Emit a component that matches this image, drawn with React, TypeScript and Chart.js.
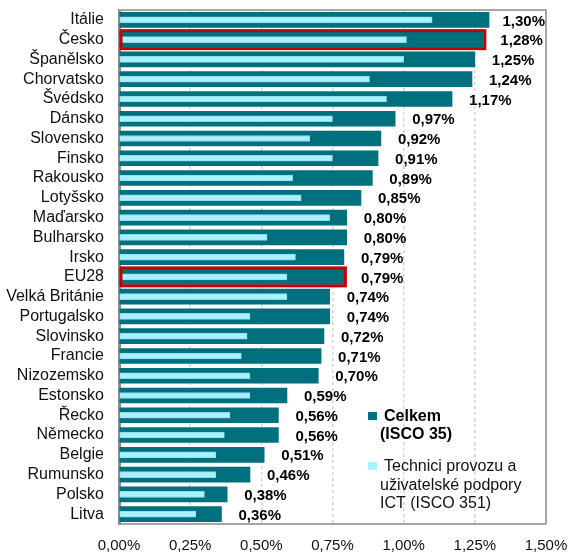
import React, { useEffect, useRef } from "react";
import { Chart, registerables } from "chart.js";

Chart.register(...registerables);

const categories = ["Itálie", "Česko", "Španělsko", "Chorvatsko", "Švédsko", "Dánsko", "Slovensko", "Finsko", "Rakousko", "Lotyšsko", "Maďarsko", "Bulharsko", "Irsko", "EU28", "Velká Británie", "Portugalsko", "Slovinsko", "Francie", "Nizozemsko", "Estonsko", "Řecko", "Německo", "Belgie", "Rumunsko", "Polsko", "Litva"];
const celkem = [1.30, 1.28, 1.25, 1.24, 1.17, 0.97, 0.92, 0.91, 0.89, 0.85, 0.80, 0.80, 0.79, 0.79, 0.74, 0.74, 0.72, 0.71, 0.70, 0.59, 0.56, 0.56, 0.51, 0.46, 0.38, 0.36];
const technici = [1.10, 1.01, 1.00, 0.88, 0.94, 0.75, 0.67, 0.75, 0.61, 0.64, 0.74, 0.52, 0.62, 0.59, 0.59, 0.46, 0.45, 0.43, 0.46, 0.46, 0.39, 0.37, 0.34, 0.34, 0.30, 0.27];
const highlighted = ["Česko", "EU28"];
const xTicks = [0, 0.25, 0.5, 0.75, 1.0, 1.25, 1.5];
const seriesNames = ["Celkem", "Technici provozu a uživatelské podpory ICT (ISCO 351)"];

const DARK = "#006F7E";
const LIGHT = "#A8F1FD";
const FONT = "'Liberation Sans', Arial, sans-serif";

const fmt = (v: number) => v.toFixed(2).replace(".", ",") + "%";

const overlayPlugin = {
  id: "overlay",
  afterDatasetsDraw(chart: any) {
    const ctx = chart.ctx;
    const area = chart.chartArea;
    const darkMeta = chart.getDatasetMeta(1);
    ctx.save();
    // red outlines
    ctx.strokeStyle = "#C00000";
    ctx.lineWidth = 3;
    categories.forEach((c, i) => {
      if (!highlighted.includes(c)) return;
      const el = darkMeta.data[i];
      const h = el.height;
      ctx.strokeRect(area.left + 2, el.y - h / 2 - 1.5, el.x - area.left - 0.5, h + 3);
    });
    // value labels
    ctx.fillStyle = "#000";
    ctx.font = `bold 15px ${FONT}`;
    ctx.textBaseline = "middle";
    ctx.textAlign = "left";
    celkem.forEach((v, i) => {
      const el = darkMeta.data[i];
      const txt = fmt(v);
      const w = ctx.measureText(txt).width;
      let x = el.x + 17;
      if (x + w > area.right - 1) x = area.right - 1 - w;
      ctx.fillText(txt, x, el.y + 1.5);
    });
    // frame top/right
    ctx.strokeStyle = "#A6A6A6";
    ctx.lineWidth = 2;
    ctx.beginPath();
    ctx.moveTo(area.left, area.top);
    ctx.lineTo(area.right, area.top);
    ctx.lineTo(area.right, area.bottom);
    ctx.stroke();
    // legend
    ctx.fillStyle = DARK;
    ctx.fillRect(368, 412, 9, 8);
    ctx.fillStyle = LIGHT;
    ctx.fillRect(368, 462, 9, 8);
    ctx.fillStyle = "#000";
    ctx.font = `bold 16px ${FONT}`;
    ctx.fillText(seriesNames[0], 384, 417);
    ctx.fillText("(ISCO 35)", 380, 435);
    ctx.font = `16px ${FONT}`;
    ctx.fillStyle = "#111";
    ctx.fillText("Technici provozu a", 384, 467);
    ctx.fillText("uživatelské podpory", 380, 486);
    ctx.fillText("ICT (ISCO 351)", 380, 504);
    ctx.restore();
  },
};

export default function App() {
  const ref = useRef<HTMLCanvasElement>(null);
  useEffect(() => {
    document.body.style.margin = "0";
    const chart = new Chart(ref.current!, {
      type: "bar",
      data: {
        labels: categories,
        datasets: [
          {
            label: seriesNames[1],
            data: technici,
            backgroundColor: LIGHT,
            borderColor: "#8EDBE8",
            borderWidth: 1,
            borderSkipped: false,
            barThickness: 6,
            grouped: false,
          },
          {
            label: seriesNames[0],
            data: celkem,
            backgroundColor: DARK,
            borderWidth: 0,
            barThickness: 15,
            grouped: false,
          },
        ],
      },
      options: {
        indexAxis: "y",
        animation: false,
        responsive: true,
        maintainAspectRatio: false,
        layout: { padding: { top: 10, right: 24, left: 0, bottom: 0 } },
        plugins: { legend: { display: false }, tooltip: { enabled: false } },
        scales: {
          x: {
            min: 0,
            max: 1.5,
            afterBuildTicks: (scale: any) => {
              scale.ticks = xTicks.map((v) => ({ value: v }));
            },
            afterFit: (scale: any) => {
              scale.height = 28;
              scale.paddingLeft = 0;
              scale.paddingRight = 0;
            },
            ticks: {
              callback: (v: any) => fmt(Number(v)),
              font: { family: FONT, size: 15 },
              color: "#111",
              padding: 13,
              maxRotation: 0,
            },
            grid: {
              drawTicks: false,
              lineWidth: 1.5,
              color: (c: any) => (c.tick && (c.tick.value === 0 || c.tick.value === 1.5) ? "rgba(0,0,0,0)" : "#D4D4D4"),
            },
            border: { display: true, color: "#A6A6A6", width: 2, dash: [3, 3] },
          },
          y: {
            afterFit: (scale: any) => {
              scale.width = 119;
              scale.paddingTop = 0;
              scale.paddingBottom = 0;
            },
            ticks: {
              font: { family: FONT, size: 16 },
              color: "#111",
              padding: 15,
              autoSkip: false,
            },
            grid: { display: false, drawTicks: false },
            border: { display: true, color: "#8C8C8C", width: 3 },
          },
        },
      },
      plugins: [overlayPlugin],
    });
    return () => chart.destroy();
  }, []);
  return (
    <div style={{ width: 570, height: 552, position: "relative", background: "#fff" }}>
      <canvas ref={ref} />
    </div>
  );
}
